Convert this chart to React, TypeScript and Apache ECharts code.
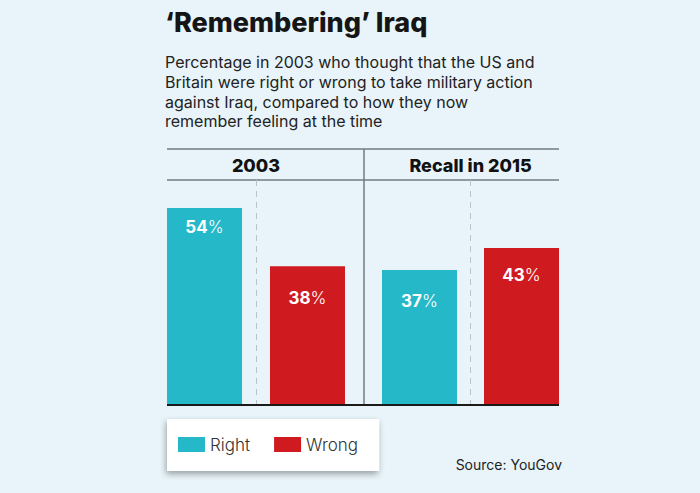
import React, { useEffect, useRef } from "react";
import * as echarts from "echarts";

const categories = ["2003", "Recall in 2015"];
const rightValues = [54, 37];
const wrongValues = [38, 43];
const seriesNames = ["Right", "Wrong"];

const TEAL = "#25b8c9";
const RED = "#cf1a1f";
const BG = "#e8f4f9";
const FONT = "Inter, 'Noto Sans', sans-serif";

// label distance from the bar top (styling only), per category for each series
const labelDistRight = [11, 23];
const labelDistWrong = [23, 18];

export default function App() {
  const ref = useRef<HTMLDivElement>(null);
  useEffect(() => {
    if (!ref.current) return;
    const chart = echarts.init(ref.current, null, { renderer: "svg" });
    const grids = [
      { left: 167, width: 178, top: 186, height: 219 },
      { left: 382, width: 177, top: 186, height: 219 },
    ];
    const makeLabel = (distance: number) => ({
      show: true,
      position: "insideTop",
      distance,
      formatter: (p: any) => `{n|${p.value}}{p|%}`,
      rich: {
        n: { color: "#fff", fontSize: 17, fontWeight: 700, fontFamily: FONT },
        p: { color: "#fff", fontSize: 17, fontWeight: 300, fontFamily: FONT },
      },
    });
    const series: any[] = [];
    categories.forEach((c, i) => {
      series.push({
        type: "bar",
        name: seriesNames[0],
        xAxisIndex: i,
        yAxisIndex: i,
        data: [rightValues[i]],
        barWidth: 75,
        barGap: i === 0 ? "37.3%" : "36%",
        itemStyle: { color: TEAL },
        label: makeLabel(labelDistRight[i]),
      });
      series.push({
        type: "bar",
        name: seriesNames[1],
        xAxisIndex: i,
        yAxisIndex: i,
        data: [wrongValues[i]],
        barWidth: 75,
        barGap: i === 0 ? "37.3%" : "36%",
        itemStyle: { color: RED },
        label: makeLabel(labelDistWrong[i]),
      });
    });
    const lineStyle = { stroke: "#707c82", lineWidth: 1.5 };
    chart.setOption({
      animation: false,
      backgroundColor: BG,
      textStyle: { fontFamily: FONT },
      grid: grids,
      xAxis: categories.map((c, i) => ({
        type: "category",
        gridIndex: i,
        data: [c],
        position: "top",
        axisLine: { show: false },
        axisTick: { show: false },
        axisLabel: {
          margin: 12,
          color: "#111",
          fontSize: 18,
          fontWeight: 800,
          fontFamily: FONT,
        },
      })),
      yAxis: categories.map((c, i) => ({
        type: "value",
        gridIndex: i,
        min: 0,
        max: 60,
        show: false,
        splitLine: { show: false },
      })),
      legend: {
        data: seriesNames,
        left: 167,
        top: 419,
        orient: "horizontal",
        itemWidth: 27,
        itemHeight: 15,
        itemGap: 24,
        icon: "rect",
        padding: [17, 21, 18, 11],
        backgroundColor: "#ffffff",
        shadowBlur: 6,
        shadowColor: "rgba(0,0,0,0.35)",
        shadowOffsetX: -1,
        shadowOffsetY: 3,
        textStyle: { fontSize: 17, fontWeight: 300, color: "#333", fontFamily: FONT },
        selectedMode: false,
      },
      graphic: [
        {
          type: "text",
          left: 165,
          top: 9,
          style: {
            text: "\u2018Remembering\u2019 Iraq",
            fontSize: 27,
            fontWeight: 800,
            fill: "#151515",
            fontFamily: FONT,
          },
        },
        {
          type: "text",
          left: 165,
          top: 52,
          style: {
            text:
              "Percentage in 2003 who thought that the US and\nBritain were right or wrong to take military action\nagainst Iraq, compared to how they now\nremember feeling at the time",
            fontSize: 16,
            lineHeight: 19.8,
            fontWeight: 400,
            fill: "#222",
            fontFamily: FONT,
          },
        },
        { type: "line", shape: { x1: 167, y1: 149, x2: 559, y2: 149 }, style: lineStyle },
        { type: "line", shape: { x1: 167, y1: 180, x2: 559, y2: 180 }, style: lineStyle },
        { type: "line", shape: { x1: 364, y1: 149, x2: 364, y2: 405 }, style: lineStyle },
        {
          type: "line",
          shape: { x1: 256.5, y1: 180, x2: 256.5, y2: 405 },
          style: { stroke: "#b9c4c8", lineWidth: 1, lineDash: [6, 5] },
        },
        {
          type: "line",
          shape: { x1: 470.5, y1: 180, x2: 470.5, y2: 405 },
          style: { stroke: "#b9c4c8", lineWidth: 1, lineDash: [6, 5] },
        },
        {
          type: "line",
          z: 100,
          shape: { x1: 167, y1: 405, x2: 559, y2: 405 },
          style: { stroke: "#1a1a1a", lineWidth: 2 },
        },
        {
          type: "text",
          right: 138,
          top: 457,
          style: {
            text: "Source: YouGov",
            fontSize: 14,
            fontWeight: 400,
            fill: "#222",
            fontFamily: FONT,
          },
        },
      ],
      series,
    });
    return () => chart.dispose();
  }, []);
  return (
    <div
      ref={ref}
      style={{ position: "fixed", left: 0, top: 0, width: 700, height: 493 }}
    />
  );
}
